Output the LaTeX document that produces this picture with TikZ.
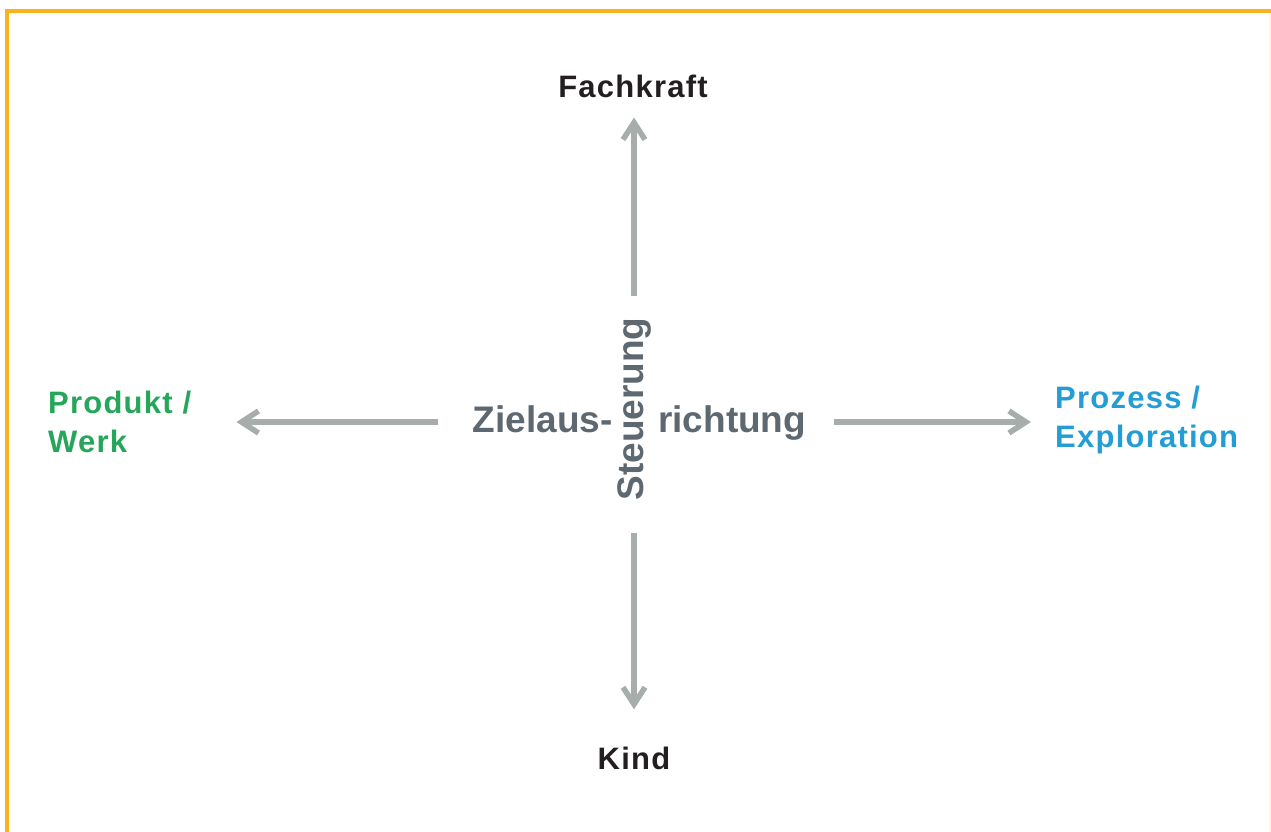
\documentclass[tikz,border=0pt]{standalone}
\usepackage{fontspec}
\setmainfont{Liberation Sans}
\newfontfamily\weitfont[LetterSpace=4]{Liberation Sans Bold}
\newfontfamily\engfont{Liberation Sans Bold}
\definecolor{mOrange}{HTML}{FBB21B}
\definecolor{mArrowGrey}{HTML}{A6ADAB}
\definecolor{mSlate}{HTML}{5E6870}
\definecolor{mInk}{HTML}{231F20}
\definecolor{mGreen}{HTML}{26A65B}
\definecolor{mBlue}{HTML}{249DD5}
\usetikzlibrary{arrows.meta}
\tikzset{
 pfeil/.style={draw=mArrowGrey, line width=5.5pt, -{Straight Barb[length=17pt,width=22pt]}},
 pol/.style={inner sep=0pt, font=\weitfont\fontsize{31}{39}\selectfont},
 mitte/.style={inner sep=0pt, text=mSlate, font=\engfont\fontsize{37}{42}\selectfont},
}

\begin{document}
\begin{tikzpicture}[x=1pt,y=-1pt]
\useasboundingbox (0,0) rectangle (1271,832);
% frame
\draw[mOrange!12, line width=1.5pt] (1270,11) -- (1270,832);
\draw[mOrange, line width=3.5pt] (1271,11) -- (7,11) -- (7,832);
% middle
\coordinate (o) at (634,422);
\node[mitte, anchor=base east] (zl) at (613,432) {Zielaus-};
\node[mitte, anchor=base west] (rt) at (658,432) {richtung};
\node[mitte, rotate=90] (st) at (634,409) {Steuerung};
% poles
\node[pol, anchor=base, text=mInk] (fk) at (633,98) {Fachkraft};
\node[pol, anchor=base, text=mInk] (kd) at (634,769) {Kind};
\node[pol, anchor=north west, align=left, text=mGreen] (pw) at (48,391) {Produkt /\\Werk};
\node[pol, anchor=north west, align=left, text=mBlue] (pe) at (1055,386) {Prozess /\\Exploration};
% arrows
\draw[pfeil, shorten <=21pt, shorten >=19pt] (st.east) -- (st.east |- fk.south);
\draw[pfeil, shorten <=32pt, shorten >=37pt] (st.west) -- (st.west |- kd.north);
\draw[pfeil, shorten <=35pt, shorten >=45pt] (zl.west |- o) -- (pw.east |- o);
\draw[pfeil, shorten <=28pt, shorten >=24pt] (rt.east |- o) -- (pe.west |- o);
\end{tikzpicture}
\end{document}
